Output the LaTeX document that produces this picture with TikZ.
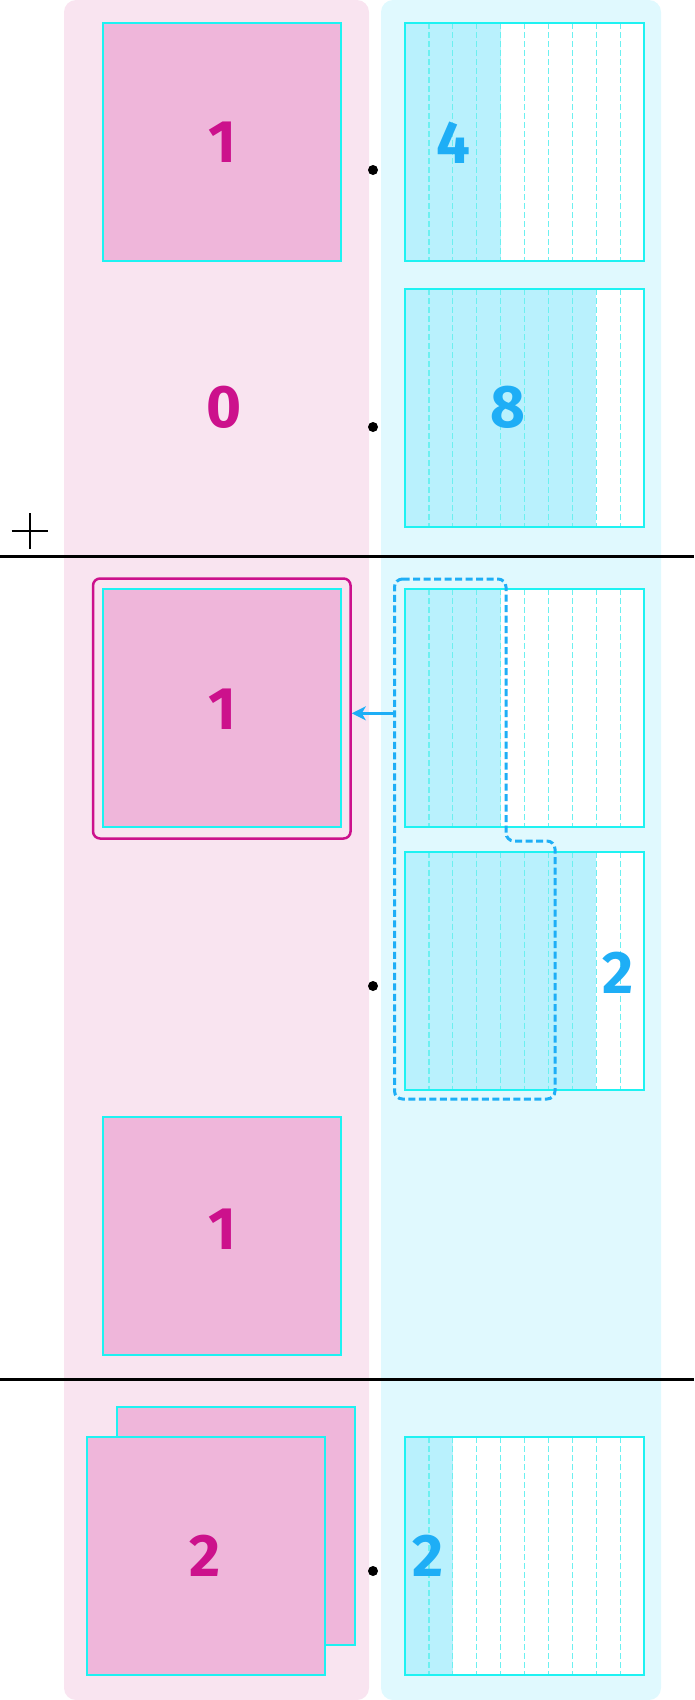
\documentclass[tikz,border=0pt]{standalone}
\usepackage{fontspec}
\newfontfamily\digitfont{Fira Sans}
\usetikzlibrary{arrows.meta}
\definecolor{pinkbg}{HTML}{F9E4F0}
\definecolor{pinkfill}{HTML}{EFB6DA}
\definecolor{magentatxt}{HTML}{CC118C}
\definecolor{cyanline}{HTML}{1EF2F2}
\definecolor{cyanbg}{HTML}{E0F9FE}
\definecolor{cyanfill}{HTML}{B9F1FD}
\definecolor{bluetxt}{HTML}{1EAEF6}
\definecolor{dashcyan}{HTML}{6CF0F0}
\newcommand\cyanbox[3]{%
  \node[cframe] (#1) at (524.5,#2) {};
  \fill[cyanfill] (#1.north west) rectangle ([xshift=#3*23.9pt]#1.south west);
  \foreach \k in {1,...,9} \draw[colline] ([xshift=\k*23.9pt]#1.north west) -- ([xshift=\k*23.9pt]#1.south west);
  \draw[cyanline, line width=2pt] (#1.north west) rectangle (#1.south east);
}
\begin{document}
\begin{tikzpicture}[x=1pt,y=-1pt,
  pbox/.style={draw=cyanline, fill=pinkfill, line width=2pt, minimum width=238pt, minimum height=238pt, inner sep=0pt, outer sep=0pt},
  cframe/.style={draw=cyanline, fill=white, line width=2pt, minimum width=239pt, minimum height=238pt, inner sep=0pt, outer sep=0pt},
  plabel/.style={text=magentatxt, font=\digitfont\bfseries\fontsize{60}{60}\selectfont, inner sep=0pt},
  clabel/.style={plabel, text=bluetxt},
  dotnode/.style={circle, fill=black, minimum size=10pt, inner sep=0pt},
  colline/.style={dashcyan, line width=1.2pt, dash pattern=on 6pt off 3pt},
  rule/.style={black, line width=2.2pt},
  grp/.style={draw=bluetxt, line width=3pt, dash pattern=on 7pt off 3.5pt, rounded corners=8pt},
  selbox/.style={draw=magentatxt, line width=2.5pt, rounded corners=7pt, minimum width=257.5pt, minimum height=260pt, inner sep=0pt},
]
\useasboundingbox (0,0) rectangle (694,1700);
% column backgrounds
\fill[pinkbg, rounded corners=12pt] (64,0) rectangle (369,1700);
\fill[cyanbg, rounded corners=12pt] (381,0) rectangle (661,1700);

% section 1
\node[pbox] (L1) at (222.2,142) {};
\node[plabel] (t1) at (222,142) {1};
\node[dotnode] (d1) at (373,170) {};
\cyanbox{R1}{142}{4}
\node[clabel] (t4) at (453,142.5) {4};

\node[plabel] (t0) at (224,407) {0};
\node[dotnode] (d2) at (373,427) {};
\cyanbox{R2}{408}{8}
\node[clabel] (t8) at (507.7,407.5) {8};

% plus sign
\coordinate (plus) at (29.5,531);
\draw[line width=2pt] ([xshift=-18pt]plus) -- ([xshift=18pt]plus);
\draw[line width=2pt] ([yshift=-18pt]plus) -- ([yshift=18pt]plus);

% rule 1
\coordinate (r1a) at (0,556.5);
\coordinate (r1b) at (694,556.5);
\draw[rule] (r1a) -- (r1b);

% section 2
\node[pbox] (L3) at (222.2,708) {};
\node[plabel] (t1b) at (222,709.5) {1};
\node[selbox] (sel) at (221.8,708.5) {};
\cyanbox{R3}{708}{4}
\cyanbox{R4}{970.7}{8}
\node[clabel] (t2a) at (618,973) {2};
\node[dotnode] (d3) at (373,986) {};
\draw[grp] (394.5,579) -- (506,579) -- (506,841) -- (555,841) -- (555,1099) -- (394.5,1099) -- cycle;
\coordinate (gL) at (394.5,713.3);
\draw[bluetxt, line width=2.5pt, -{Stealth[length=14pt, width=14pt, inset=4pt]}] (gL) -- (gL -| sel.east);

\node[pbox] (L5) at (222.2,1236) {};
\node[plabel] (t1c) at (222,1229) {1};

% rule 2
\coordinate (r2a) at (0,1379.5);
\coordinate (r2b) at (694,1379.5);
\draw[rule] (r2a) -- (r2b);

% section 3
\node[pbox] (Lb) at (236,1525.5) {};
\node[pbox] (Lf) at (206,1556) {};
\node[plabel] (t2b) at (205,1556) {2};
\node[dotnode] (d4) at (373,1571) {};
\cyanbox{R5}{1556}{2}
\node[clabel] (t2c) at (428,1556) {2};
\end{tikzpicture}
\end{document}
